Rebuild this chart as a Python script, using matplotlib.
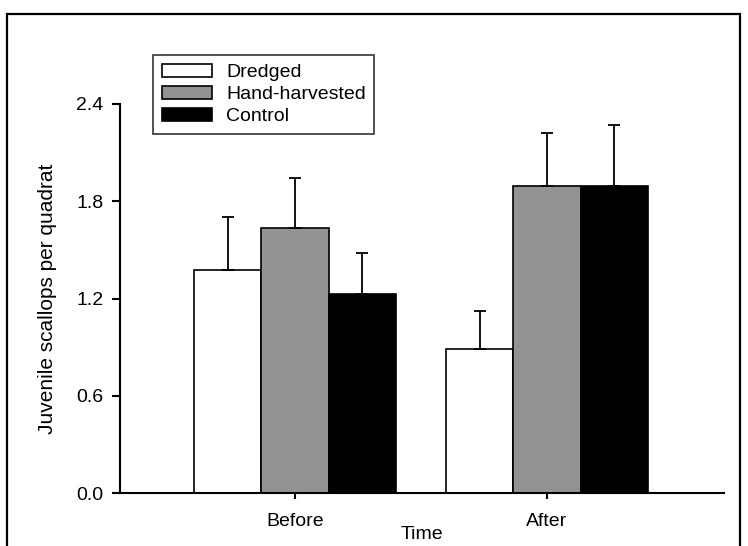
import numpy as np
import matplotlib.pyplot as plt
from matplotlib.patches import Rectangle

plt.rcParams['font.family'] = ['Liberation Sans', 'DejaVu Sans']

times = ["Before", "After"]
series = ["Dredged", "Hand-harvested", "Control"]
means = {
    "Dredged": [1.376, 0.888],
    "Hand-harvested": [1.633, 1.894],
    "Control": [1.226, 1.894],
}
errs = {
    "Dredged": [0.325, 0.235],
    "Hand-harvested": [0.309, 0.327],
    "Control": [0.253, 0.376],
}
colors = {"Dredged": "white", "Hand-harvested": "#939393", "Control": "black"}
yticks = [0.0, 0.6, 1.2, 1.8, 2.4]

fig = plt.figure(figsize=(7.48, 5.46), dpi=100)
ax = fig.add_axes([120 / 748, 1 - 493 / 546, 604 / 748, 389 / 546])

x = np.arange(len(times))
w = 0.267
for i, s in enumerate(series):
    pos = x + (i - 1) * w
    ax.bar(pos, means[s], w, color=colors[s], edgecolor="black", linewidth=1.2,
           label=s, zorder=2)
    ax.errorbar(pos, means[s], yerr=[np.zeros(len(times)), errs[s]], fmt="none",
                ecolor="black", elinewidth=1.3, capsize=4.5, capthick=1.3, zorder=3)

ax.set_xlim(-0.694, 1.702)
ax.set_ylim(0, 2.4)
ax.set_yticks(yticks)
ax.set_yticklabels(["%.1f" % v for v in yticks])
ax.set_xticks(x)
ax.set_xticklabels(times)
for side in ["top", "right"]:
    ax.spines[side].set_visible(False)
for side in ["left", "bottom"]:
    ax.spines[side].set_linewidth(1.5)
ax.tick_params(axis="y", direction="out", length=6, width=1.5, pad=6, labelsize=14)
ax.tick_params(axis="x", direction="out", length=4.5, width=1.5, pad=10, labelsize=14)

ax.set_xlabel("Time", fontsize=14, labelpad=-3)
ax.set_ylabel("Juvenile scallops per quadrat", fontsize=15, labelpad=14)

leg = ax.legend(loc="upper left", bbox_to_anchor=(153 / 748, 1 - 55 / 546),
                bbox_transform=fig.transFigure, borderaxespad=0, fontsize=14,
                frameon=True, fancybox=False, handlelength=2.6, handleheight=0.65,
                handletextpad=0.7, labelspacing=0.25, borderpad=0.45)
leg.get_frame().set_edgecolor("black")
leg.get_frame().set_linewidth(1.2)

# outer border of the figure
fig.patches.append(Rectangle((7 / 748, -0.05), 733 / 748, 1.05 - 14 / 546,
                             transform=fig.transFigure, fill=False,
                             edgecolor="black", linewidth=1.6, clip_on=False))

fig.savefig("out.png", dpi=100)
